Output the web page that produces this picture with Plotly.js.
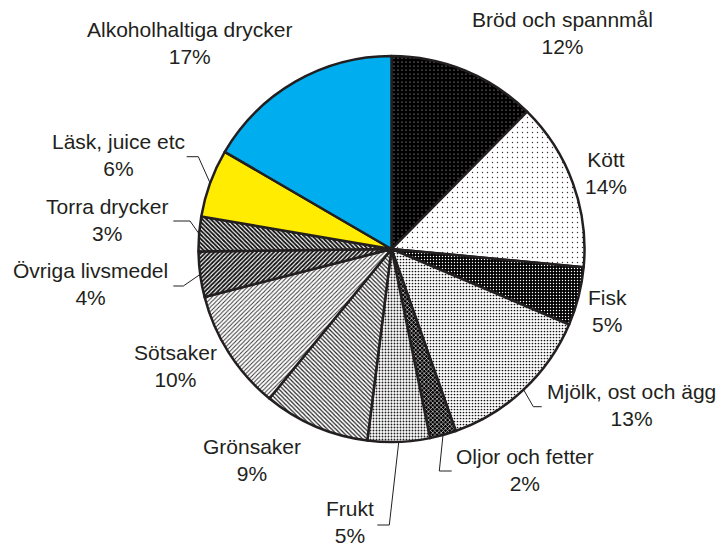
<!DOCTYPE html>
<html>
<head>
<meta charset="utf-8">
<script src="https://cdn.plot.ly/plotly-3.0.1.min.js"></script>
<style>html,body{margin:0;padding:0;background:#fff;}#chart{width:722px;height:546px;}</style>
</head>
<body>
<div id="chart"></div>
<script>
// Data (share of total)
const categories = ['Bröd och spannmål', 'Kött', 'Fisk', 'Mjölk, ost och ägg', 'Oljor och fetter', 'Frukt',
                    'Grönsaker', 'Sötsaker', 'Övriga livsmedel', 'Torra drycker', 'Läsk, juice etc', 'Alkoholhaltiga drycker'];
const shares = [12.4, 14.1, 4.9, 13.2, 2.2, 5.2, 8.9, 10.1, 3.8, 2.9, 5.7, 16.6];

// Styles per slice
const bgColors = ['#000000', '#ffffff', '#000000', '#ffffff', '#000000', '#ffffff', '#ffffff', '#ffffff', '#ffffff', '#ffffff', '#ffec00', '#00aeef'];
const fgColors = ['#ffffff', '#333333', '#ffffff', '#111111', '#ffffff', '#222222', '#222222', '#333333', '#111111', '#111111', '#ffec00', '#00aeef'];
const shapes   = ['.', '.', '.', '.', 'x', '.', '\\', '/', '/', '\\', '', ''];
const sizes    = [4, 5, 3, 3, 3, 3, 3, 3, 3, 3, 8, 8];
const solid    = [0.05, 0.06, 0.18, 0.26, 0.35, 0.32, 0.4, 0.33, 0.62, 0.62, 0.3, 0.3];

const W = 722, H = 546;
const CX = 391.5, CY = 249, R = 193;
const px = (x) => x / W;
const py = (y) => 1 - y / H;

const total = shares.reduce((a, b) => a + b, 0);
const pctLabels = shares.map(v => Math.round(v / total * 100) + '%');

// label placement (pixels) and leader lines (elbow, end) for some slices
const labelPos = [
  [562.5, 32.5], [606, 173.3], [607.5, 311.3], [631, 404.7], [525, 470.3], [349.7, 521.8],
  [252, 460], [175, 366.3], [90.5, 283.7], [107.5, 220], [118, 155], [189, 43.2]
];
const leaders = {
  3: [[533.3, 406.7], [541.7, 406.7]],
  4: [[439.3, 471], [451.7, 471]],
  5: [[389.3, 525], [377.3, 525]],
  8: [[183.3, 286], [173.3, 286]],
  9: [[190, 221], [173.3, 221]],
  10: [[198.3, 156.7], [186.7, 156.7]]
};

const trace = {
  type: 'pie',
  labels: categories,
  values: shares,
  sort: false,
  direction: 'clockwise',
  rotation: 0,
  textinfo: 'none',
  hoverinfo: 'label+percent',
  showlegend: false,
  domain: { x: [px(CX - R), px(CX + R)], y: [py(CY + R), py(CY - R)] },
  marker: {
    colors: bgColors,
    line: { color: '#231f20', width: 2.5 },
    pattern: {
      shape: shapes,
      bgcolor: bgColors,
      fgcolor: fgColors,
      size: sizes,
      solidity: solid,
      fillmode: 'replace'
    }
  }
};

const annotations = categories.map((c, i) => ({
  xref: 'paper', yref: 'paper',
  x: px(labelPos[i][0]), y: py(labelPos[i][1]),
  xanchor: 'center', yanchor: 'middle',
  text: c + '<br>' + pctLabels[i],
  showarrow: false,
  font: { family: 'Liberation Sans, Arial, sans-serif', size: 21, color: '#231f20' }
}));

const shapesLayout = [];
let cum = 0;
shares.forEach((v, i) => {
  const mid = (cum + v / 2) / total;
  cum += v;
  if (leaders[i]) {
    const th = mid * 2 * Math.PI;
    const sx = CX + R * Math.sin(th), sy = CY - R * Math.cos(th);
    const [e, t] = leaders[i];
    shapesLayout.push({
      type: 'path', xref: 'paper', yref: 'paper',
      path: `M ${px(sx)},${py(sy)} L ${px(e[0])},${py(e[1])} L ${px(t[0])},${py(t[1])}`,
      line: { color: '#231f20', width: 1 }
    });
  }
});

const layout = {
  width: W, height: H,
  margin: { l: 0, r: 0, t: 0, b: 0 },
  paper_bgcolor: '#ffffff',
  annotations: annotations,
  shapes: shapesLayout
};

Plotly.newPlot('chart', [trace], layout, { displayModeBar: false, staticPlot: true });
</script>
</body>
</html>
